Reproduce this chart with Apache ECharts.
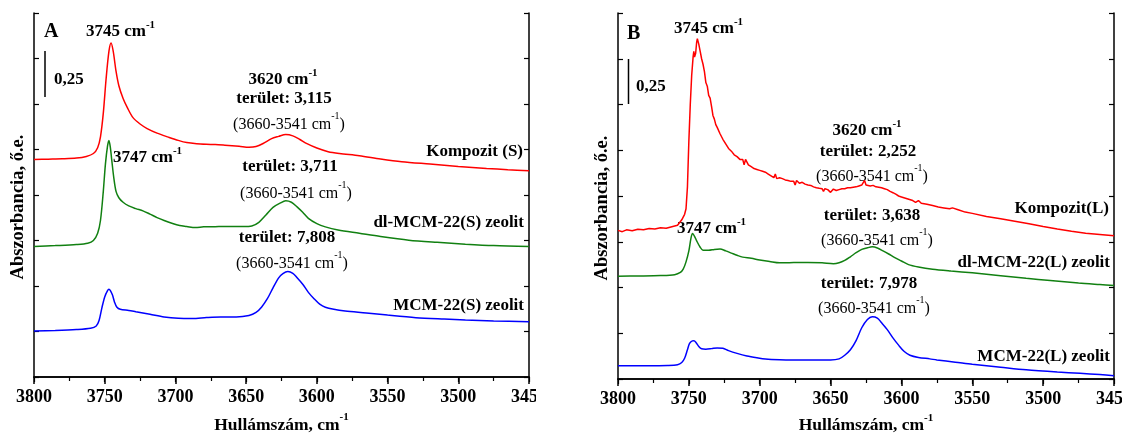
<!DOCTYPE html>
<html>
<head>
<meta charset="utf-8">
<script src="https://cdn.jsdelivr.net/npm/echarts@6/dist/echarts.min.js"></script>
<style>
html,body{margin:0;padding:0;background:#fff;width:1124px;height:433px;overflow:hidden;}
#a{position:absolute;left:0;top:0;width:536px;height:433px;}
#b{position:absolute;left:536px;top:0;width:586px;height:433px;}
</style>
</head>
<body>
<div id="a"></div>
<div id="b"></div>
<script>
// ---------- Data (wavenumber, cm-1 / absorbance, a.u.) ----------
const xTicks = [3800, 3750, 3700, 3650, 3600, 3550, 3500, 3450];

// Panel A
const wnA_komp = [3800,3790,3780,3770,3763,3758,3755,3753,3751,3749,3747,3745.5,3744,3742,3740,3737,3734,3730,3725,3720,3713,3705,3698,3692,3685,3675,3665,3655,3648,3643,3638,3632,3627,3622,3617,3612,3607,3600,3592,3584,3570,3555,3540,3520,3500,3480,3465,3450];
const absA_komp = [1.195,1.197,1.199,1.203,1.212,1.228,1.26,1.32,1.45,1.64,1.79,1.835,1.79,1.68,1.60,1.53,1.48,1.425,1.39,1.365,1.34,1.318,1.30,1.288,1.282,1.278,1.274,1.268,1.262,1.266,1.283,1.31,1.322,1.332,1.325,1.305,1.282,1.258,1.238,1.228,1.216,1.198,1.183,1.17,1.157,1.146,1.139,1.133];

const wnA_dl = [3800,3785,3770,3762,3758,3755,3753,3751,3749.5,3748,3747,3746,3745,3743.5,3742,3740,3737,3733,3728,3723,3718,3713,3708,3702,3697,3692,3686,3680,3672,3662,3652,3646,3641,3636,3631,3626,3622,3618,3614,3610,3606,3600,3594,3585,3570,3555,3535,3515,3495,3475,3450];
const absA_dl = [0.717,0.722,0.728,0.735,0.75,0.79,0.86,1.02,1.17,1.27,1.30,1.26,1.19,1.09,1.02,0.985,0.96,0.94,0.925,0.913,0.895,0.876,0.86,0.843,0.832,0.827,0.821,0.825,0.826,0.827,0.827,0.83,0.85,0.89,0.932,0.955,0.968,0.96,0.935,0.905,0.872,0.843,0.825,0.808,0.79,0.772,0.752,0.74,0.73,0.722,0.717];

const wnA_mcm = [3800,3785,3770,3760,3756,3754,3752,3750,3748,3747,3746,3744.5,3743,3741.5,3739,3733,3728,3718,3708,3698,3688,3678,3668,3657,3648,3643,3639,3635,3631,3627,3624,3620.5,3617,3614,3610,3606,3602,3598,3594,3588,3580,3565,3550,3530,3510,3495,3475,3450];
const absA_mcm = [0.253,0.256,0.261,0.268,0.28,0.31,0.38,0.44,0.475,0.482,0.475,0.45,0.41,0.385,0.372,0.366,0.359,0.345,0.33,0.323,0.322,0.327,0.33,0.33,0.338,0.355,0.385,0.43,0.49,0.545,0.568,0.579,0.57,0.546,0.51,0.465,0.43,0.4,0.383,0.372,0.363,0.352,0.34,0.326,0.318,0.313,0.308,0.304];

// Panel B
const wnB_komp = [3800,3797,3794,3790,3786,3782,3778,3774,3770,3766,3762,3758,3755,3753,3752,3751,3750,3749,3748,3747,3746.5,3746,3745.2,3744.5,3744,3743,3742,3741,3740,3739,3738,3737,3736,3735,3734,3733,3732,3731,3730,3728,3726,3724,3722,3720,3718,3716,3714,3712,3711,3710,3709,3708,3706,3704,3702,3700,3698,3696,3694,3692,3690,3689,3688,3686,3684,3682,3680,3678,3676,3675,3674,3672,3670,3668,3666,3664,3662,3660,3658,3656,3655,3654,3652,3650,3648,3646,3644,3642,3640,3638,3636,3634,3632,3630,3628,3626,3625,3624,3622,3620,3618,3616,3614,3612,3610,3608,3606,3604,3602,3600,3596,3592,3590,3588,3586,3582,3578,3574,3570,3566,3565,3564,3560,3555,3550,3540,3530,3520,3510,3500,3490,3480,3470,3460,3450];
const absB_komp = [0.812,0.805,0.815,0.81,0.818,0.815,0.822,0.82,0.826,0.824,0.832,0.84,0.87,0.9,0.93,1.05,1.3,1.5,1.66,1.76,1.79,1.76,1.78,1.84,1.86,1.83,1.79,1.75,1.72,1.68,1.62,1.6,1.55,1.535,1.49,1.44,1.42,1.39,1.375,1.34,1.31,1.285,1.26,1.245,1.225,1.215,1.2,1.2,1.17,1.2,1.185,1.17,1.16,1.15,1.145,1.14,1.135,1.13,1.12,1.11,1.1,1.12,1.095,1.1,1.095,1.088,1.085,1.08,1.08,1.06,1.085,1.07,1.075,1.065,1.06,1.058,1.05,1.045,1.042,1.04,1.025,1.04,1.035,1.02,1.038,1.03,1.035,1.04,1.04,1.045,1.045,1.048,1.05,1.055,1.06,1.085,1.06,1.065,1.055,1.058,1.05,1.048,1.045,1.04,1.035,1.025,1.018,1.01,1.0,0.995,0.985,0.975,0.965,0.975,0.96,0.955,0.948,0.94,0.935,0.93,0.92,0.935,0.925,0.912,0.905,0.888,0.876,0.862,0.848,0.833,0.82,0.808,0.797,0.79,0.783];

const wnB_dl = [3800,3785,3770,3760,3756,3754,3752,3750,3748.5,3747.4,3746,3744.5,3742,3740,3736,3732,3728,3724,3720,3716,3712,3706,3700,3693,3686,3676,3666,3656,3648,3644,3640,3636,3632,3628,3624,3620.6,3617,3613,3609,3605,3600,3595,3588,3578,3565,3550,3530,3512,3495,3475,3460,3450];
const absB_dl = [0.562,0.563,0.565,0.57,0.582,0.6,0.64,0.7,0.77,0.795,0.78,0.755,0.72,0.704,0.703,0.708,0.71,0.7,0.688,0.676,0.666,0.66,0.65,0.642,0.635,0.636,0.637,0.635,0.63,0.635,0.648,0.668,0.69,0.708,0.717,0.722,0.716,0.7,0.683,0.665,0.645,0.625,0.612,0.6,0.59,0.58,0.564,0.55,0.538,0.524,0.516,0.511];

const wnB_mcm = [3800,3780,3765,3758,3755,3753,3751,3749.5,3747.5,3746.4,3745,3743,3741,3738,3734,3730,3726,3722,3716,3709,3702,3696,3686,3676,3662,3650,3644,3640,3636,3632,3628,3624,3620.6,3617,3614,3610,3606,3602,3598,3594,3588,3580,3575,3562,3550,3530,3512,3490,3474,3460,3450];
const absB_mcm = [0.073,0.073,0.074,0.078,0.09,0.113,0.16,0.195,0.208,0.209,0.2,0.178,0.165,0.163,0.166,0.17,0.168,0.155,0.14,0.126,0.116,0.109,0.105,0.104,0.104,0.104,0.11,0.13,0.16,0.21,0.28,0.325,0.34,0.333,0.307,0.27,0.225,0.185,0.15,0.13,0.118,0.11,0.104,0.092,0.08,0.064,0.05,0.038,0.031,0.024,0.018];

// ---------- Helpers ----------
const zip = (xs, ys) => xs.map((x, i) => [x, ys[i]]);
const FONT = '"Liberation Serif","Times New Roman",serif';
const RICH = {
  b: {fontFamily: FONT, fontWeight: 'bold', fontSize: 17, color: '#000', lineHeight: 21, verticalAlign: 'bottom'},
  n: {fontFamily: FONT, fontWeight: 'normal', fontSize: 16, color: '#000', lineHeight: 21, verticalAlign: 'bottom'},
  sb: {fontFamily: FONT, fontWeight: 'bold', fontSize: 11, color: '#000', verticalAlign: 'top'},
  sn: {fontFamily: FONT, fontWeight: 'normal', fontSize: 10, color: '#000', verticalAlign: 'top'}
};
const RICH_X = {
  b: {fontFamily: FONT, fontWeight: 'bold', fontSize: 17.5, color: '#000', lineHeight: 22, verticalAlign: 'bottom'},
  sb: {fontFamily: FONT, fontWeight: 'bold', fontSize: 11, color: '#000', verticalAlign: 'top'}
};
function txt(x, y, text, align, size) {
  return {
    type: 'text', x: x, y: y, silent: true,
    style: {text: text, rich: RICH, align: align || 'left', verticalAlign: 'middle',
            fontFamily: FONT, fontWeight: 'bold', fontSize: size || 17, fill: '#000'}
  };
}
function buildOption(grid, series, graphics, yNameGap, xNameGap) {
  const axisLine = {show: true, lineStyle: {color: '#000', width: 1.5}};
  grid.outerBoundsMode = 'none';
  grid.containLabel = false;
  return {
    animation: false,
    backgroundColor: '#fff',
    grid: grid,
    xAxis: [{
      type: 'value', inverse: true, min: xTicks[xTicks.length - 1], max: xTicks[0], interval: 50,
      position: 'bottom', axisLine: axisLine,
      axisTick: {show: true, inside: false, length: 7, lineStyle: {color: '#000', width: 1.5}},
      minorTick: {show: true, splitNumber: 2, length: 4, lineStyle: {color: '#000', width: 1.2}},
      splitLine: {show: false},
      axisLabel: {margin: 11, fontFamily: FONT, fontWeight: 'bold', fontSize: 18, color: '#000',
                  showMinLabel: true, showMaxLabel: true, formatter: v => String(v)},
      name: '{b|Hullámszám, cm}{sb|-1}', nameLocation: 'middle', nameGap: xNameGap,
      nameTextStyle: {rich: RICH_X}
    }, {
      type: 'value', inverse: true, min: xTicks[xTicks.length - 1], max: xTicks[0], interval: 50,
      position: 'top', axisLine: axisLine,
      axisTick: {show: true, inside: true, length: 5, lineStyle: {color: '#000', width: 1.2}},
      minorTick: {show: true, splitNumber: 2, length: 3, lineStyle: {color: '#000', width: 1}},
      splitLine: {show: false}, axisLabel: {show: false}
    }],
    yAxis: [{
      type: 'value', min: 0, max: 2, interval: 0.25, position: 'left', axisLine: axisLine,
      axisTick: {show: true, inside: true, length: 5, lineStyle: {color: '#000', width: 1.2}},
      splitLine: {show: false}, axisLabel: {show: false},
      name: 'Abszorbancia, ő.e.', nameLocation: 'middle', nameGap: yNameGap,
      nameTextStyle: {fontFamily: FONT, fontWeight: 'bold', fontSize: 18.5, color: '#000', padding: [0, 24, 0, 0]}
    }, {
      type: 'value', min: 0, max: 2, interval: 0.25, position: 'right', axisLine: axisLine,
      axisTick: {show: true, inside: true, length: 5, lineStyle: {color: '#000', width: 1.2}},
      splitLine: {show: false}, axisLabel: {show: false}
    }],
    series: series,
    graphic: graphics
  };
}
function line(data, color, smooth) {
  return {type: 'line', data: data, showSymbol: false, symbol: 'none', smooth: smooth,
          lineStyle: {color: color, width: 1.5}, xAxisIndex: 0, yAxisIndex: 0};
}
const RED = '#ff0000', GREEN = '#118011', BLUE = '#0000ff';

// ---------- Panel A ----------
const chartA = echarts.init(document.getElementById('a'), null, {renderer: 'canvas'});
chartA.setOption(buildOption(
  {left: 34, top: 13, width: 495, height: 364},
  [line(zip(wnA_komp, absA_komp), RED, 0.3),
   line(zip(wnA_dl, absA_dl), GREEN, 0.3),
   line(zip(wnA_mcm, absA_mcm), BLUE, 0.3)],
  [
    txt(44, 32, 'A', 'left', 20),
    txt(86, 30, '{b|3745 cm}{sb|-1}'),
    {type: 'line', silent: true, shape: {x1: 45, y1: 51, x2: 45, y2: 97}, style: {stroke: '#000', lineWidth: 1.5}},
    txt(54, 80, '0,25'),
    txt(283, 78, '{b|3620 cm}{sb|-1}', 'center'),
    txt(284, 99, 'terület: 3,115', 'center'),
    txt(289, 122, '{n|(3660-3541 cm}{sn|-1}{n|)}', 'center'),
    txt(523, 152, 'Kompozit (S)', 'right'),
    txt(113, 156, '{b|3747 cm}{sb|-1}'),
    txt(290, 167, 'terület: 3,711', 'center'),
    txt(296, 191, '{n|(3660-3541 cm}{sn|-1}{n|)}', 'center'),
    txt(524, 223, 'dl-MCM-22(S) zeolit', 'right'),
    txt(287, 238, 'terület: 7,808', 'center'),
    txt(292, 261, '{n|(3660-3541 cm}{sn|-1}{n|)}', 'center'),
    txt(524, 306, 'MCM-22(S) zeolit', 'right')
  ], 6, 35));

// ---------- Panel B ----------
const chartB = echarts.init(document.getElementById('b'), null, {renderer: 'canvas'});
const ox = 536;
chartB.setOption(buildOption(
  {left: 82, top: 13, width: 496, height: 366},
  [line(zip(wnB_komp, absB_komp), RED, false),
   line(zip(wnB_dl, absB_dl), GREEN, 0.3),
   line(zip(wnB_mcm, absB_mcm), BLUE, 0.3)],
  [
    txt(627 - ox, 34, 'B', 'left', 20),
    txt(674 - ox, 27, '{b|3745 cm}{sb|-1}'),
    {type: 'line', silent: true, shape: {x1: 628.5 - ox, y1: 59, x2: 628.5 - ox, y2: 104}, style: {stroke: '#000', lineWidth: 1.5}},
    txt(636 - ox, 87, '0,25'),
    txt(867 - ox, 129, '{b|3620 cm}{sb|-1}', 'center'),
    txt(868 - ox, 152, 'terület: 2,252', 'center'),
    txt(872 - ox, 174, '{n|(3660-3541 cm}{sn|-1}{n|)}', 'center'),
    txt(1109 - ox, 209, 'Kompozit(L)', 'right'),
    txt(677 - ox, 227, '{b|3747 cm}{sb|-1}'),
    txt(872 - ox, 216, 'terület: 3,638', 'center'),
    txt(877 - ox, 238, '{n|(3660-3541 cm}{sn|-1}{n|)}', 'center'),
    txt(1110 - ox, 263, 'dl-MCM-22(L) zeolit', 'right'),
    txt(869 - ox, 284, 'terület: 7,978', 'center'),
    txt(874 - ox, 306, '{n|(3660-3541 cm}{sn|-1}{n|)}', 'center'),
    txt(1110 - ox, 357, 'MCM-22(L) zeolit', 'right')
  ], 6, 31));
</script>
</body>
</html>
